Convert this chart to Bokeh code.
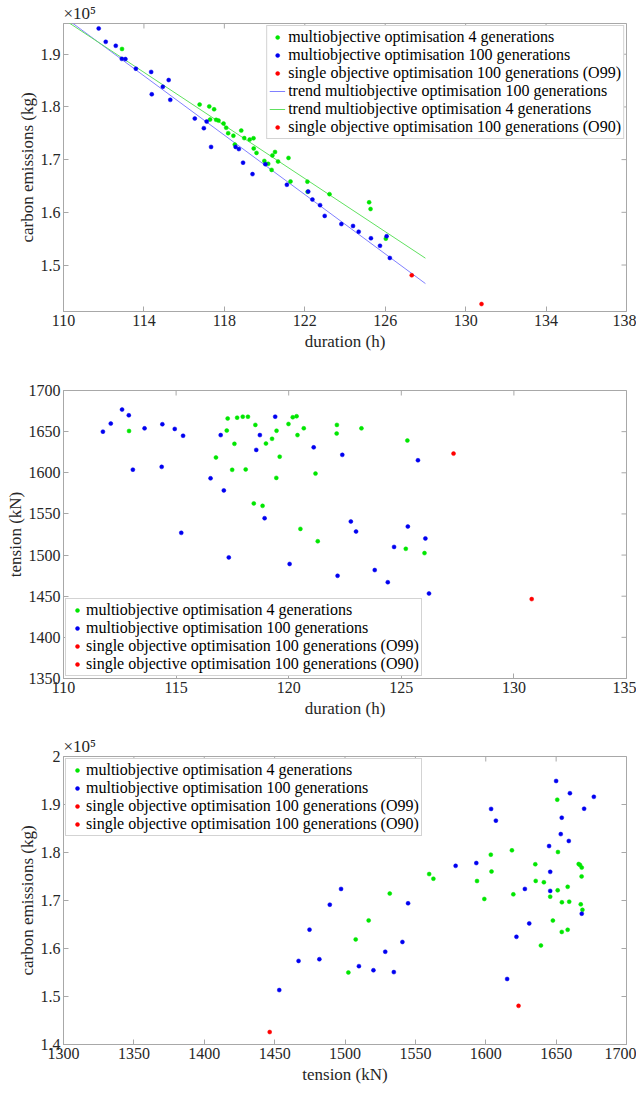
import numpy as np
from bokeh.plotting import figure
from bokeh.layouts import column
from bokeh.models import (FixedTicker, CustomJSTickFormatter, Legend, LegendItem, Range1d)
from bokeh.embed import file_html
from bokeh.resources import INLINE

FONT = "Liberation Serif"
GRAY = "#a8a8a8"
TXT = "#262626"
GREEN = "#00e600"
BLUE = "#0000f0"
RED = "#ff0000"
TREND_BLUE = "#8080ff"
TREND_GREEN = "#60e060"

# ---------------- data ----------------
# multiobjective optimisation, 100 generations
blue_duration = [111.75, 112.10, 112.60, 112.90, 113.08, 113.60, 114.36, 114.39, 114.94, 115.23,
                 115.31, 116.53, 116.98, 117.12, 117.34, 118.56, 118.72, 118.93, 119.40, 120.04,
                 121.11, 122.17, 122.38, 122.76, 122.99, 123.82, 124.40, 124.68, 125.29, 125.74,
                 126.07, 126.23]
blue_tension = [1650.0, 1659.8, 1676.8, 1669.9, 1603.8, 1654.0, 1607.2, 1659.0, 1653.3, 1527.0,
                1645.0, 1593.3, 1645.8, 1578.6, 1497.2, 1627.8, 1645.8, 1544.8, 1668.2, 1489.2,
                1630.9, 1474.8, 1621.8, 1540.8, 1528.6, 1481.8, 1467.0, 1509.9, 1534.7, 1615.2,
                1520.2, 1453.3]
blue_emissions = [194900, 192350, 191600, 189120, 189080, 187250, 186640, 182400, 183830, 185100,
                  181340, 177800, 175970, 177220, 172410, 172410, 172000, 169420, 167250, 169130,
                  165230, 163930, 162430, 161360, 159320, 157770, 157410, 156320, 155080, 153650,
                  155470, 151340]

# multiobjective optimisation, 4 generations
green_duration = [112.91, 116.77, 117.25, 117.29, 117.49, 117.59, 117.71, 117.96, 118.09, 118.19,
                  118.45, 118.52, 118.84, 118.99, 119.26, 119.45, 119.46, 119.60, 119.99, 120.18,
                  120.35, 120.39, 120.52, 120.67, 121.19, 121.29, 122.13, 122.14, 123.23, 125.20,
                  125.27, 126.03]
green_tension = [1650.8, 1618.6, 1651.3, 1666.0, 1603.6, 1635.2, 1667.0, 1668.2, 1604.1, 1668.1,
                 1562.8, 1658.2, 1559.8, 1635.5, 1641.3, 1593.8, 1651.1, 1619.6, 1659.3, 1667.5,
                 1668.7, 1645.8, 1531.8, 1654.1, 1599.0, 1516.8, 1647.7, 1658.2, 1654.0, 1507.6,
                 1639.2, 1502.4]
green_emissions = [191000, 180450, 180100, 177600, 179550, 177550, 177400, 176850, 176040, 175020,
                   174540, 172850, 175510, 174080, 173800, 174060, 172120, 171280, 169750, 169200,
                   168050, 170800, 171450, 169630, 170320, 165850, 165820, 163900, 163450, 161900,
                   160630, 155000]

# single objective optimisation, 100 generations
red_cases = ["O99", "O90"]
red_duration = [127.32, 130.79]
red_tension = [1623.3, 1446.5]
red_emissions = [148050, 142600]

# trend lines span
trend_duration = [110.0, 128.0]

# axes
p1_xticks = [110, 114, 118, 122, 126, 130, 134, 138]
p1_yticks = [150000, 160000, 170000, 180000, 190000]
p2_xticks = [110, 115, 120, 125, 130, 135]
p2_yticks = [1350, 1400, 1450, 1500, 1550, 1600, 1650, 1700]
p3_xticks = [1300, 1350, 1400, 1450, 1500, 1550, 1600, 1650, 1700]
p3_yticks = [140000, 150000, 160000, 170000, 180000, 190000, 200000]

LBL_G4 = "multiobjective optimisation 4 generations"
LBL_B100 = "multiobjective optimisation 100 generations"
LBL_O99 = "single objective optimisation 100 generations (O99)"
LBL_O90 = "single objective optimisation 100 generations (O90)"
LBL_TB = "trend multiobjective optimisation 100 generations"
LBL_TG = "trend multiobjective optimisation 4 generations"

e_fmt_code = "const v = Math.round(tick/1e4)/10; return v.toString();"


def make_fig(xr, yr, xticks, yticks, xlabel, ylabel, bottom_border, e_axis=False):
    p = figure(frame_width=563, frame_height=288,
               x_range=Range1d(*xr), y_range=Range1d(*yr),
               output_backend="svg", toolbar_location=None,
               min_border_left=63, min_border_right=10, min_border_top=23,
               min_border_bottom=bottom_border,
               background_fill_color="white", border_fill_color="white",
               outline_line_color=GRAY, outline_line_width=1)
    p.grid.visible = False
    p.xaxis.ticker = FixedTicker(ticks=xticks)
    p.yaxis.ticker = FixedTicker(ticks=yticks)
    if e_axis:
        p.yaxis.formatter = CustomJSTickFormatter(code=e_fmt_code)
    for ax in (p.xaxis[0], p.yaxis[0]):
        ax.axis_line_color = GRAY
        ax.major_tick_line_color = GRAY
        ax.minor_tick_line_color = None
        ax.major_tick_in = 5
        ax.major_tick_out = 0
        ax.major_label_text_font = FONT
        ax.major_label_text_font_size = "16px"
        ax.major_label_text_color = TXT
        ax.axis_label_text_font = FONT
        ax.axis_label_text_font_size = "17px"
        ax.axis_label_text_font_style = "normal"
        ax.axis_label_text_color = TXT
    p.xaxis.axis_label = xlabel
    p.yaxis.axis_label = ylabel
    p.xaxis.major_label_standoff = 3
    p.xaxis.axis_label_standoff = 3
    p.yaxis.major_label_standoff = 3
    p.yaxis.axis_label_standoff = 1
    # box ticks on the top and right edges (inward, clipped by the frame)
    p.scatter(xticks, [yr[1]] * len(xticks), marker="dash", angle=np.pi / 2, size=10,
              line_color=GRAY, line_width=1)
    p.scatter([xr[1]] * len(yticks), yticks, marker="dash", size=10,
              line_color=GRAY, line_width=1)
    if e_axis:
        p.title.text = "×10⁵"
        p.title.text_font = FONT
        p.title.text_font_size = "17px"
        p.title.text_font_style = "normal"
        p.title.text_color = TXT
        p.title.align = "left"
        p.title.standoff = 1
    return p


def dots(p, x, y, color):
    return p.scatter(x, y, marker="circle", size=4, fill_color=color,
                     line_color=color, line_width=0.5)


def legend(items, location, glyph_width):
    return Legend(items=items, location=location, margin=2, padding=2, spacing=0,
                  glyph_width=glyph_width, glyph_height=10, label_height=18,
                  label_standoff=3 if glyph_width < 18 else 0,
                  label_text_font=FONT, label_text_font_size="16px",
                  label_text_color="#000000", border_line_color=GRAY,
                  border_line_width=1, background_fill_color="white",
                  background_fill_alpha=1.0)


# ---------------- panel 1: duration vs emissions ----------------
p1 = make_fig((110, 138), (141180, 195830), p1_xticks, p1_yticks,
              "duration (h)", "carbon emissions (kg)", 56, e_axis=True)
bfit = np.polyfit(blue_duration, blue_emissions, 1)
gfit = np.polyfit(green_duration, green_emissions, 1)
tx = np.array(trend_duration)
r_tb = p1.line(tx, np.polyval(bfit, tx), line_color=TREND_BLUE, line_width=1)
r_tg = p1.line(tx, np.polyval(gfit, tx), line_color=TREND_GREEN, line_width=1)
r_g = dots(p1, green_duration, green_emissions, GREEN)
r_b = dots(p1, blue_duration, blue_emissions, BLUE)
r_o99 = dots(p1, red_duration[0:1], red_emissions[0:1], RED)
r_o90 = dots(p1, red_duration[1:2], red_emissions[1:2], RED)
p1.add_layout(legend([
    LegendItem(label=LBL_G4, renderers=[r_g]),
    LegendItem(label=LBL_B100, renderers=[r_b]),
    LegendItem(label=LBL_O99, renderers=[r_o99]),
    LegendItem(label=LBL_TB, renderers=[r_tb]),
    LegendItem(label=LBL_TG, renderers=[r_tg]),
    LegendItem(label=LBL_O90, renderers=[r_o90]),
], "top_right", 16))

# ---------------- panel 2: duration vs tension ----------------
p2 = make_fig((110, 135), (1350, 1700), p2_xticks, p2_yticks,
              "duration (h)", "tension (kN)", 55)
s_g = dots(p2, green_duration, green_tension, GREEN)
s_b = dots(p2, blue_duration, blue_tension, BLUE)
s_o99 = dots(p2, red_duration[0:1], red_tension[0:1], RED)
s_o90 = dots(p2, red_duration[1:2], red_tension[1:2], RED)
p2.add_layout(legend([
    LegendItem(label=LBL_G4, renderers=[s_g]),
    LegendItem(label=LBL_B100, renderers=[s_b]),
    LegendItem(label=LBL_O99, renderers=[s_o99]),
    LegendItem(label=LBL_O90, renderers=[s_o90]),
], "bottom_left", 18))

# ---------------- panel 3: tension vs emissions ----------------
p3 = make_fig((1300, 1700), (140000, 200000), p3_xticks, p3_yticks,
              "tension (kN)", "carbon emissions (kg)", 44, e_axis=True)
t_g = dots(p3, green_tension, green_emissions, GREEN)
t_b = dots(p3, blue_tension, blue_emissions, BLUE)
t_o99 = dots(p3, red_tension[0:1], red_emissions[0:1], RED)
t_o90 = dots(p3, red_tension[1:2], red_emissions[1:2], RED)
p3.add_layout(legend([
    LegendItem(label=LBL_G4, renderers=[t_g]),
    LegendItem(label=LBL_B100, renderers=[t_b]),
    LegendItem(label=LBL_O99, renderers=[t_o99]),
    LegendItem(label=LBL_O90, renderers=[t_o90]),
], "top_left", 18))

layout = column(p1, p2, p3, spacing=0)
open("out.html", "w").write(file_html(layout, INLINE))
